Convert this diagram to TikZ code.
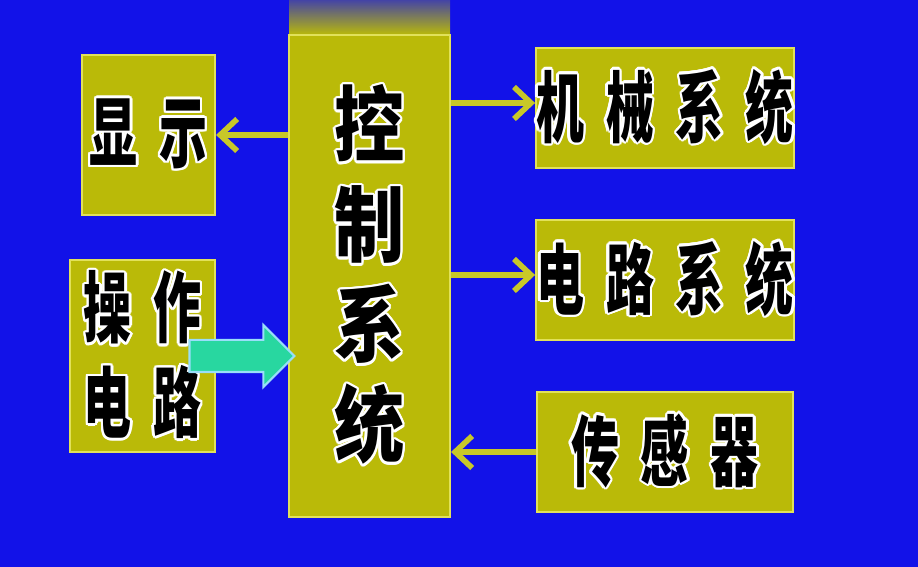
\documentclass[tikz,border=0pt]{standalone}
\usepackage{fontspec}
\usepackage{contour}
\usetikzlibrary{arrows.meta,shapes.arrows,calc}
\newfontfamily\cjkbox[FakeStretch=0.62]{Noto Sans CJK SC}
\newfontfamily\cjkctrl[FakeStretch=0.85]{Noto Sans CJK SC}
\definecolor{bgblue}{RGB}{18,18,232}
\definecolor{boxyellow}{RGB}{186,186,8}
\definecolor{boxedge}{RGB}{225,225,90}
\definecolor{arrowyellow}{RGB}{200,200,40}
\definecolor{pushgreen}{RGB}{40,215,160}
\contourlength{0.7pt}
\contournumber{16}
\newcommand{\hz}[1]{\contour{white}{#1}}
\newcommand{\gap}{\hspace{0.22cm}}

\begin{document}
\begin{tikzpicture}[
    blk/.style={draw=boxedge, fill=boxyellow, line width=0.6pt, inner sep=0pt,
      text=black, font=\cjkbox\bfseries\fontsize{22}{27}\selectfont, align=center},
    conn/.style={draw=arrowyellow, line width=1.6pt,
      -{Straight Barb[length=0.17cm,width=0.32cm,line width=1.6pt]}},
    pusharrow/.style={single arrow, fill=pushgreen, draw=cyan!40!white, line width=0.6pt,
      minimum height=1.05cm, single arrow head extend=0.15cm, inner sep=0pt}
  ]
  \fill[bgblue] (0,0) rectangle (9.18,5.67);
  \useasboundingbox (0,0) rectangle (9.18,5.67);

  % left column
  \node[blk, minimum width=1.33cm, minimum height=1.60cm] (disp) at (1.485,4.32)
    {\hz{显\gap 示}};
  \node[blk, minimum width=1.45cm, minimum height=1.92cm] (oper) at (1.425,2.11)
    {\hz{操\gap 作}\\\hz{电\gap 路}};

  % control system, fading into the background at the top
  \shade[top color=bgblue!70!boxyellow, bottom color=boxyellow] (2.89,5.67) rectangle (4.50,5.32);
  \node[blk, minimum width=1.61cm, minimum height=4.82cm,
    font=\cjkctrl\bfseries\fontsize{23.5}{28.45}\selectfont] (ctrl) at (3.695,2.91)
    {\hz{控}\\\hz{制}\\\hz{系}\\\hz{统}};

  % right column
  \node[blk, minimum width=2.56cm, minimum height=1.20cm] (mech) at (6.65,4.59)
    {\hz{机\gap 械\gap 系\gap 统}};
  \node[blk, minimum width=2.56cm, minimum height=1.20cm] (circ) at (6.65,2.87)
    {\hz{电\gap 路\gap 系\gap 统}};
  \node[blk, minimum width=2.56cm, minimum height=1.20cm] (sens) at (6.65,1.15)
    {\hz{传\gap 感\gap 器}};

  \draw[conn] (ctrl.west |- disp) -- (disp.east);
  \draw[conn] ([yshift=0.05cm]ctrl.east |- mech) -- ([yshift=0.05cm]mech.west);
  \draw[conn] ([yshift=0.05cm]ctrl.east |- circ) -- ([yshift=0.05cm]circ.west);
  \draw[conn] (sens.west) -- (ctrl.east |- sens);

  \node[pusharrow, anchor=tip] (push) at ([xshift=0.08cm]ctrl.west |- oper)
    {\rule{0pt}{0.3cm}};
\end{tikzpicture}
\end{document}
